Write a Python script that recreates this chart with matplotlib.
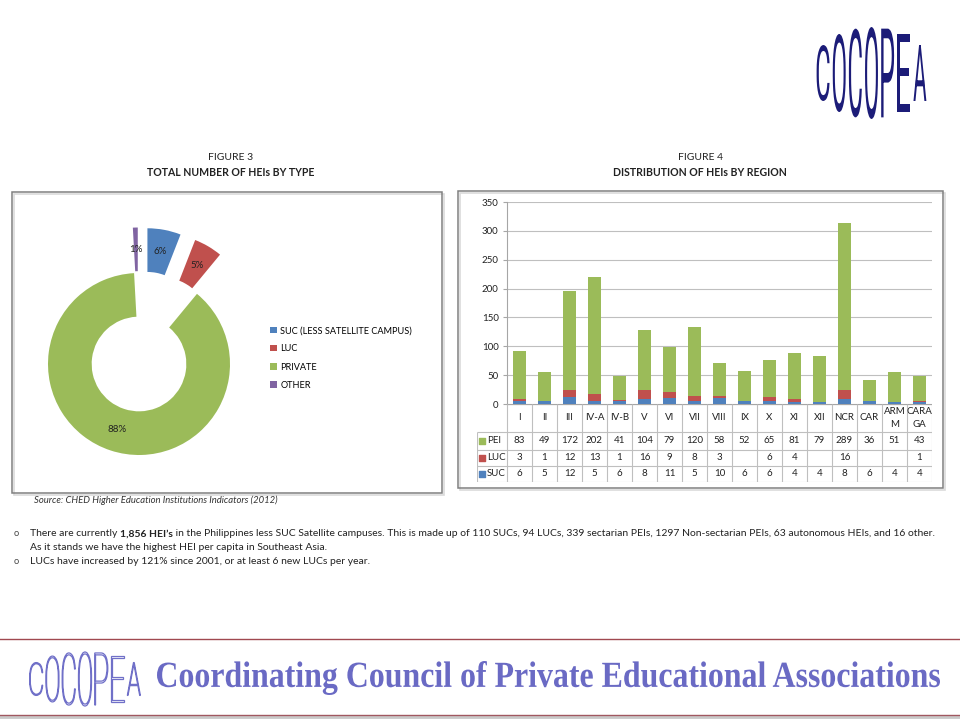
import numpy as np
import matplotlib
matplotlib.use("Agg")
import matplotlib.pyplot as plt
from matplotlib.textpath import TextPath
from matplotlib.patches import PathPatch, Rectangle
from matplotlib.font_manager import FontProperties
from matplotlib.transforms import Affine2D

plt.rcParams['font.family'] = ['Lato', 'DejaVu Sans']

# figure 3 data: HEIs by type
type_names = ['SUC (LESS SATELLITE CAMPUS)', 'LUC', 'PRIVATE', 'OTHER']
type_counts = [110, 94, 1636, 16]
type_colors = ['#4F81BD', '#C0504D', '#9BBB59', '#8064A2']

# figure 4 data: HEIs by region
regions = ['I', 'II', 'III', 'IV-A', 'IV-B', 'V', 'VI', 'VII', 'VIII', 'IX', 'X',
           'XI', 'XII', 'NCR', 'CAR', 'ARM\nM', 'CARA\nGA']
pei = [83, 49, 172, 202, 41, 104, 79, 120, 58, 52, 65, 81, 79, 289, 36, 51, 43]
luc = [3, 1, 12, 13, 1, 16, 9, 8, 3, None, 6, 4, None, 16, None, None, 1]
suc = [6, 5, 12, 5, 6, 8, 11, 5, 10, 6, 6, 4, 4, 8, 6, 4, 4]
yticks = [0, 50, 100, 150, 200, 250, 300, 350]

bullet1a = "There are currently "
bullet1b = "1,856 HEI\u2019s"
bullet1c = (" in the Philippines less SUC Satellite campuses. This is made up of 110 SUCs, "
            "94 LUCs, 339 sectarian PEIs, 1297 Non-sectarian PEIs, 63 autonomous HEIs, and 16 other.")
bullet1d = "As it stands we have the highest HEI per capita in Southeast Asia."
bullet2 = "LUCs have increased by 121% since 2001, or at least 6 new LUCs per year."
footer = "Coordinating Council of Private Educational Associations"

W, H = 960, 720
FS = 7.0
fig = plt.figure(figsize=(9.6, 7.2), dpi=100)

# background axes in pixel units (y down)
bg = fig.add_axes([0, 0, 1, 1])
bg.set_xlim(0, W)
bg.set_ylim(H, 0)
bg.axis('off')


def fit_text(ax, s, x0, y0, x1, y1, color, prop, ec='none', lw=0):
    tp = TextPath((0, 0), s, size=10, prop=prop)
    ext = tp.get_extents()
    tr = (Affine2D().translate(-ext.x0, -ext.y1)
          .scale((x1 - x0) / ext.width, -(y1 - y0) / ext.height)
          .translate(x0, y0))
    ax.add_patch(PathPatch(tr.transform_path(tp), facecolor=color, edgecolor=ec, lw=lw))


def oval_logo(ax, s, x0, x1, yc, hh, color, prop, **kw):
    # letters squeezed into an oval, like the cocopea logo
    n = len(s)
    cw = (x1 - x0) / n
    a = (x1 - x0) / 2 * 1.08
    cx = (x0 + x1) / 2
    for i, ch in enumerate(s):
        xc = x0 + (i + 0.5) * cw
        h = hh * np.sqrt(1 - ((xc - cx) / a) ** 2)
        fit_text(ax, ch, xc - cw * 0.4, yc - h, xc + cw * 0.4, yc + h, color, prop, **kw)


# frames
for (x, y, w, h) in [(12, 192, 430, 301), (458, 191, 485, 297)]:
    bg.add_patch(Rectangle((x + 1.5, y + 1.5), w, h, fill=False, ec='#DADADA', lw=1.2))
    bg.add_patch(Rectangle((x, y), w, h, fill=False, ec='#808080', lw=1.1))

# titles
bg.text(231, 157, 'FIGURE 3', ha='center', va='center', fontsize=7.5, color='#222222')
bg.text(231, 173, 'TOTAL NUMBER OF HEIs BY TYPE', ha='center', va='center', fontsize=7.6,
        fontweight='bold', color='#222222')
bg.text(700, 157, 'FIGURE 4', ha='center', va='center', fontsize=7.5, color='#222222')
bg.text(700, 173, 'DISTRIBUTION OF HEIs BY REGION', ha='center', va='center', fontsize=7.6,
        fontweight='bold', color='#222222')
bg.text(34, 500, 'Source: CHED Higher Education Institutions Indicators (2012)', ha='left',
        va='center', fontsize=6.8, style='italic', color='#333333')

# figure 3: exploded donut
pcx, pcy, pr, half = 139, 364, 91, 150
pax = fig.add_axes([(pcx - half) / W, (H - pcy - half) / H, 2 * half / W, 2 * half / H])
wedges, _, pct = pax.pie(type_counts, colors=type_colors, startangle=90, counterclock=False,
                         explode=[0.5, 0.5, 0, 0.5], radius=1,
                         wedgeprops=dict(width=0.48, edgecolor='none'),
                         autopct='%1.0f%%', pctdistance=0.76,
                         textprops=dict(fontsize=FS, color='#222222'))
lim = half / pr
pax.set_xlim(-lim, lim)
pax.set_ylim(-lim, lim)
pax.axis('off')
pax.legend(wedges, type_names, loc='upper left', bbox_to_anchor=(262 / W, 1 - 318 / H),
           bbox_transform=fig.transFigure, frameon=False, fontsize=6.6, handlelength=0.7,
           handleheight=0.7, handletextpad=0.4, labelspacing=1.0)

# figure 4: stacked bars
x = np.arange(len(regions))
luc_v = np.array([v if v is not None else 0 for v in luc])
suc_v = np.array(suc)
bax = fig.add_axes([507 / W, (H - 404) / H, 425 / W, 202 / H])
bax.set_facecolor('none')
bax.bar(x, suc_v, width=0.52, color='#4F81BD', zorder=3)
bax.bar(x, luc_v, width=0.52, bottom=suc_v, color='#C0504D', zorder=3)
bax.bar(x, pei, width=0.52, bottom=suc_v + luc_v, color='#9BBB59', zorder=3)
bax.set_xlim(-0.5, len(regions) - 0.5)
bax.set_ylim(0, 350)
bax.set_yticks(yticks)
bax.yaxis.grid(True, color='#BFBFBF', lw=0.8, zorder=0)
bax.set_xticks([])
for sp in ['top', 'right', 'bottom']:
    bax.spines[sp].set_visible(False)
bax.spines['left'].set_color('#A6A6A6')
bax.tick_params(axis='y', length=3, color='#A6A6A6', labelsize=FS, labelcolor='#222222', pad=3)

# data table under the bars
tax = fig.add_axes([477 / W, (H - 482) / H, 455 / W, 78 / H])
tax.set_xlim(-1.7, len(regions) - 0.5)
tax.set_ylim(78, 0)
tax.axis('off')
rows_y = [0, 28, 45.5, 62, 78]
lc = '#BFBFBF'
tax.hlines(0, -0.5, len(regions) - 0.5, color='#A6A6A6', lw=0.9)
tax.hlines(rows_y[1:], -1.7, len(regions) - 0.5, color=lc, lw=0.8)
tax.vlines(np.arange(len(regions) + 1) - 0.5, 0, 78, color=lc, lw=0.8)
tax.vlines(-1.7, 28, 78, color=lc, lw=0.8)
for i, r in enumerate(regions):
    tax.text(i, 14, r, ha='center', va='center', fontsize=FS, color='#222222', linespacing=1.5)
names = ['PEI', 'LUC', 'SUC']
cols = ['#9BBB59', '#C0504D', '#4F81BD']
for k, vals in enumerate([pei, luc, suc]):
    yc = (rows_y[k + 1] + rows_y[k + 2]) / 2
    tax.scatter([-1.52], [yc], marker='s', s=14, color=cols[k], clip_on=False)
    tax.text(-1.3, yc, names[k], ha='left', va='center', fontsize=FS, color='#222222')
    for i, v in enumerate(vals):
        if v is not None:
            tax.text(i, yc, str(v), ha='center', va='center', fontsize=FS, color='#222222')

# bullets
fig.canvas.draw()
rend = fig.canvas.get_renderer()
probe = bg.text(0, 0, bullet1a + bullet1b + bullet1c, fontsize=7)
fs = 7 * 905 / probe.get_window_extent(rend).width
probe.remove()
xx = 30
for seg, wt in [(bullet1a, 'normal'), (bullet1b, 'bold'), (bullet1c, 'normal')]:
    t = bg.text(xx, 534, seg, ha='left', va='center', fontsize=fs, fontweight=wt, color='#222222')
    xx += t.get_window_extent(rend).width
bg.text(30, 547, bullet1d, ha='left', va='center', fontsize=fs, color='#222222')
bg.text(30, 561, bullet2, ha='left', va='center', fontsize=fs, color='#222222')
for yb in [534, 561]:
    bg.text(16, yb, 'o', ha='center', va='center', fontsize=fs * 0.9, color='#444444')

# logos and footer
logo_font = FontProperties(family=['Roboto', 'DejaVu Sans'])
thin = FontProperties(family=['Roboto', 'DejaVu Sans'], weight='light')
oval_logo(bg, 'COCOPEA', 815, 928, 73, 46, '#1C1C78', logo_font)
oval_logo(bg, 'COCOPEA', 28, 142, 679, 27, '#FFFFFF', thin, ec='#7070C8', lw=0.9)
fit_text(bg, footer, 157, 661, 940, 695, '#6A6AC4',
         FontProperties(family='Liberation Serif', weight='bold'))
bg.plot([0, W], [639, 639], color='#A04850', lw=1.0)
bg.plot([0, W], [717, 717], color='#C8C8C8', lw=2.0)
bg.plot([0, W], [715, 715], color='#A05860', lw=1.0)

fig.savefig('out.png', dpi=100)
